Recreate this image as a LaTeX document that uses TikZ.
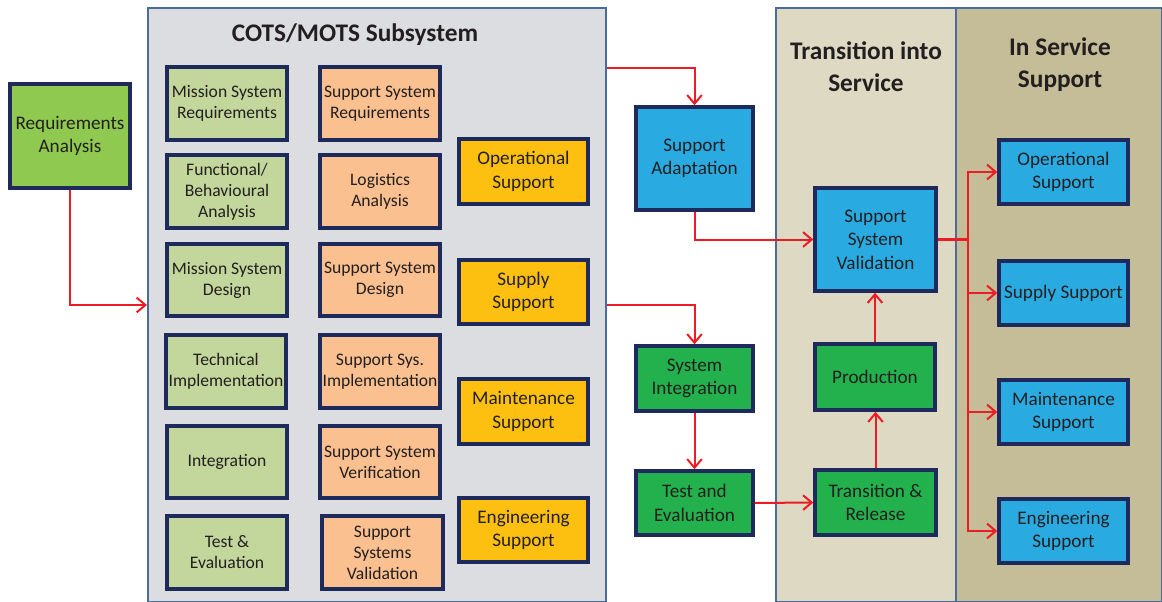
\documentclass[tikz,border=0pt]{standalone}
\usepackage{fontspec}
\setmainfont{Carlito}
\usetikzlibrary{arrows.meta}
\definecolor{panelgray}{HTML}{DCDDE0}
\definecolor{panelline}{HTML}{4A6C9B}
\definecolor{tisfill}{HTML}{DDD9C3}
\definecolor{issfill}{HTML}{C4BD97}
\definecolor{boxline}{HTML}{1F2A5C}
\definecolor{msgreen}{HTML}{C3D69B}
\definecolor{ssorange}{HTML}{FAC090}
\definecolor{ysupport}{HTML}{FDC010}
\definecolor{reqgreen}{HTML}{8FC94F}
\definecolor{stepblue}{HTML}{29ABE2}
\definecolor{stepgreen}{HTML}{22B14C}
\definecolor{flowred}{HTML}{ED1C24}
\definecolor{ink}{HTML}{231F20}
\tikzset{
  panel/.style={draw=panelline, line width=1.6pt, inner sep=0pt},
  blk/.style 2 args={draw=boxline, line width=2.6pt, inner sep=0pt, align=center,
    text=ink, minimum width=#1*0.75pt, minimum height=#2*0.75pt,
    execute at begin node={\vspace*{3pt}}},
  small/.style={font=\fontsize{13.2}{15.8}\selectfont},
  big/.style={font=\fontsize{14.4}{17.6}\selectfont},
  ttl/.style={font=\fontsize{19}{24}\selectfont\bfseries, text=ink, align=center},
  arr/.style={draw=flowred, line width=1.5pt, -{Straight Barb[length=6.5pt,width=11pt,line width=1.5pt]}},
  flow/.style={draw=flowred, line width=1.5pt}
}
\begin{document}
\begin{tikzpicture}[x=0.75pt,y=-0.75pt]
\useasboundingbox (0,0) rectangle (1162,602);

% swim-lane panels
\node[panel, fill=panelgray, minimum width=458*0.75pt, minimum height=594*0.75pt] (cots) at (377,305) {};
\node[panel, fill=tisfill, minimum width=180*0.75pt, minimum height=594*0.75pt] (tis) at (866,305) {};
\node[panel, fill=issfill, minimum width=206*0.75pt, minimum height=594*0.75pt] (iss) at (1059,305) {};

% panel titles
\node[ttl] (cotsT) at (355,35) {COTS/MOTS Subsystem};
\node[ttl] (tisT) at (866,67) {Transition into\\Service};
\node[ttl] (issT) at (1060,65) {In Service\\Support};

% requirements
\node[blk={120}{104}, fill=reqgreen, big] (req) at (70,136) {Requirements\\Analysis};

% mission system column
\node[blk={120}{73}, fill=msgreen, small] (m1) at (227,103.5) {Mission System\\Requirements};
\node[blk={120}{73}, fill=msgreen, small] (m2) at (227,191.5) {Functional/\\Behavioural\\Analysis};
\node[blk={120}{72}, fill=msgreen, small] (m3) at (227,280) {Mission System\\Design};
\node[blk={120}{73}, fill=msgreen, small] (m4) at (226,371.5) {Technical\\Implementation};
\node[blk={120}{72}, fill=msgreen, small] (m5) at (227,462) {Integration};
\node[blk={120}{73}, fill=msgreen, small] (m6) at (227,552.5) {Test \&\\Evaluation};

% support system column
\node[blk={120}{73}, fill=ssorange, small] (s1) at (380,103.5) {Support System\\Requirements};
\node[blk={120}{73}, fill=ssorange, small] (s2) at (380,191.5) {Logistics\\Analysis};
\node[blk={120}{72}, fill=ssorange, small] (s3) at (380,280) {Support System\\Design};
\node[blk={120}{73}, fill=ssorange, small] (s4) at (380,371.5) {Support Sys.\\Implementation};
\node[blk={120}{72}, fill=ssorange, small] (s5) at (380,462) {Support System\\Verification};
\node[blk={121}{73}, fill=ssorange, small] (s6) at (382.5,552.5) {Support\\Systems\\Validation};

% support elements
\node[blk={129}{65}, fill=ysupport, big] (y1) at (523.5,171.5) {Operational\\Support};
\node[blk={129}{64}, fill=ysupport, big] (y2) at (523.5,292) {Supply\\Support};
\node[blk={129}{65}, fill=ysupport, big] (y3) at (523.5,411.5) {Maintenance\\Support};
\node[blk={129}{64}, fill=ysupport, big] (y4) at (523.5,530) {Engineering\\Support};

% adaptation and integration steps
\node[blk={117}{103}, fill=stepblue, big] (sa) at (694.5,158.5) {Support\\Adaptation};
\node[blk={117}{65}, fill=stepgreen, big] (si) at (694.5,378.5) {System\\Integration};
\node[blk={117}{64}, fill=stepgreen, big] (te) at (694.5,503) {Test and\\Evaluation};

% transition into service
\node[blk={121}{103}, fill=stepblue, big] (ssv) at (875.5,239.5) {Support\\System\\Validation};
\node[blk={120}{66}, fill=stepgreen, big] (prod) at (875,377) {Production};
\node[blk={121}{65}, fill=stepgreen, big] (tr) at (875.5,502.5) {Transition \&\\Release};

% in service support
\node[blk={129}{64}, fill=stepblue, big] (i1) at (1063.5,172) {Operational\\Support};
\node[blk={129}{64}, fill=stepblue, big] (i2) at (1063.5,293) {Supply Support};
\node[blk={129}{64}, fill=stepblue, big] (i3) at (1063.5,412) {Maintenance\\Support};
\node[blk={129}{64}, fill=stepblue, big] (i4) at (1063.5,531) {Engineering\\Support};

% flow connectors
\draw[arr] (req.south) |- (cots.west);
\draw[arr] (cots.east |- 0,68) -| (sa.north);
\draw[arr] (cots.east) -| (si.north);
\draw[arr] (sa.south) |- (ssv.west);
\draw[arr] (si.south) -- (te.north);
\draw[arr] (te.east) -- (tr.west);
\draw[arr] (tr.north) -- (tr.north |- prod.south);
\draw[arr] (prod.north) -- (prod.north |- ssv.south);

\coordinate (hub) at (968,239.5);
\draw[flow, line width=2.3pt] (ssv.east) -- (hub);
\draw[arr] (hub) |- (i1.west);
\draw[arr] (hub) |- (i2.west);
\draw[arr] (hub) |- (i3.west);
\draw[arr] (hub) |- (i4.west);
\end{tikzpicture}
\end{document}
